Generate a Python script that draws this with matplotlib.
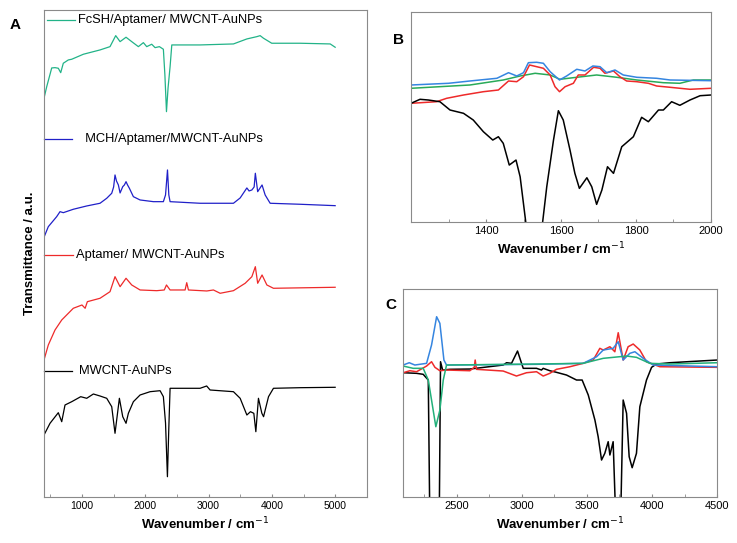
import numpy as np
import matplotlib
matplotlib.use("Agg")
import matplotlib.pyplot as plt

plt.rcParams['font.family'] = ['Liberation Sans', 'DejaVu Sans']

# ---- panel A (full spectra, stacked, a.u.) ----
fcsh_wn = [400, 443, 522, 574, 626, 664, 705, 784, 838, 1022, 1285, 1443, 1533, 1602, 1696, 1786, 1891,
           1970, 2023, 2102, 2155, 2223, 2286, 2310, 2335, 2360, 2392, 2419, 2866, 3393, 3605, 3763,
           3815, 3868, 3998, 4447, 4922, 5000]
fcsh_t = [444.7, 456.3, 475, 475.3, 474.7, 470.3, 479.7, 483, 483.7, 488.7, 493, 496.3, 507.3, 501.3, 505.7,
          501.3, 496.3, 500.3, 496.3, 498.7, 495.3, 496.3, 493.7, 468, 431.3, 455, 476.3, 498, 498, 499, 504,
          506.3, 507.3, 504.7, 499.7, 499.7, 499, 495.7]

mch_wn = [400, 468, 600, 653, 705, 863, 1075, 1285, 1391, 1470, 1500, 1522, 1545, 1575, 1602, 1644, 1670,
          1696, 1720, 1749, 1812, 1918, 2128, 2286, 2320, 2351, 2372, 2392, 2866, 3393, 3499, 3605, 3640,
          3684, 3720, 3739, 3776, 3845, 3894, 3973, 4447, 5000]
mch_t = [305.7, 316.3, 326.3, 331.3, 330.3, 333.7, 337, 339.7, 344.7, 349.7, 356, 368, 362, 358, 350, 356.3,
         358, 361.3, 358, 354.7, 346.3, 343, 341.3, 341.3, 348, 373, 348, 341.3, 339.7, 339.7, 345, 355, 352,
         353, 356, 369.7, 351.3, 358, 348, 339.7, 338.7, 337.3]

apt_wn = [400, 468, 574, 680, 863, 1000, 1050, 1085, 1285, 1443, 1522, 1602, 1696, 1786, 1918, 2181, 2300,
          2335, 2392, 2629, 2655, 2682, 2972, 3077, 3183, 3393, 3578, 3684, 3739, 3776, 3845, 3921, 4025,
          5000]
apt_t = [183, 198, 213, 223, 234.7, 238, 234.7, 241.3, 244.7, 251.3, 266.3, 256.3, 264.7, 258, 253, 252.3,
         253, 258, 253, 253, 260.3, 253, 252, 253, 249.7, 252.3, 259.7, 266.3, 276.3, 259.7, 268, 258, 254.7,
         255.7]

mw_wn = [400, 495, 626, 680, 732, 838, 980, 1075, 1180, 1285, 1391, 1470, 1522, 1591, 1644, 1696, 1733,
         1812, 1918, 2076, 2234, 2286, 2320, 2350, 2372, 2392, 2866, 2970, 3024, 3393, 3499, 3605, 3662,
         3715, 3747, 3788, 3842, 3869, 3947, 4025, 4447, 5000]
mw_t = [108, 119.7, 130.3, 121.3, 138, 141.3, 146.3, 144.7, 149, 147, 144.7, 136.3, 109.7, 144.7, 126.3,
        119.7, 129.7, 141.3, 148, 151.3, 152.3, 146.3, 120, 66.3, 115, 154.7, 154.7, 157, 153, 151.3, 144.7,
        128, 131.3, 129.7, 111.3, 144.7, 129.7, 126.3, 146.3, 154.7, 155.3, 155.7]

# ---- panel B (1200-2000 cm-1) ----
b_black_wn = [1200, 1224, 1246, 1277, 1304, 1340, 1366, 1393, 1418, 1433, 1446, 1462, 1480, 1491, 1506, 1528,
              1551, 1562, 1580, 1593, 1606, 1624, 1637, 1649, 1669, 1682, 1695, 1709, 1724, 1740, 1762, 1793,
              1815, 1833, 1860, 1873, 1895, 1917, 1944, 1971, 2000]
b_black_t = [439.7, 443.7, 443, 441.3, 433, 429.7, 423, 411.3, 403, 406.3, 399.7, 378, 383, 366.3, 321, 260,
             321, 356.3, 403, 432.3, 423, 393, 369.7, 354.7, 365.3, 356.3, 338.7, 353, 376.3, 369.7, 396.3,
             406.3, 425.7, 421.3, 433, 433, 441.3, 437.7, 443, 447.3, 448]
b_red_wn = [1200, 1268, 1295, 1340, 1393, 1433, 1460, 1482, 1500, 1516, 1535, 1553, 1571, 1584, 1596, 1611,
            1633, 1646, 1664, 1687, 1704, 1717, 1740, 1757, 1775, 1802, 1833, 1855, 1891, 1944, 2000]
b_red_t = [439.7, 441.3, 444.7, 448, 451.3, 453, 462, 461.3, 466.3, 478, 476.3, 474.7, 468, 456.3, 451.3,
           456.3, 459.7, 468, 468, 475.7, 474.7, 469.7, 472, 466.3, 462, 461.3, 459.7, 457, 455.7, 453.7, 454.7]
b_blue_wn = [1200, 1300, 1357, 1429, 1460, 1482, 1500, 1513, 1535, 1553, 1571, 1596, 1615, 1642, 1664, 1685,
             1704, 1722, 1744, 1766, 1802, 1855, 1891, 2000]
b_blue_t = [458, 459.7, 462, 464.7, 470.3, 467, 470.3, 480.3, 480.7, 479.7, 471.3, 463, 467, 473.7, 472, 477,
            476.3, 470.3, 473, 468, 465.7, 464.7, 463, 462.3]
b_green_wn = [1200, 1357, 1446, 1491, 1531, 1571, 1597, 1633, 1695, 1749, 1802, 1873, 1917, 1953, 2000]
b_green_t = [454.7, 458, 463, 467, 469.7, 468, 463.7, 465.3, 468, 465.7, 463, 460.3, 459.7, 463, 463]

# ---- panel C (2100-4500 cm-1) ----
c_black_wn = [2090, 2193, 2244, 2283, 2295, 2330, 2367, 2377, 2393, 2449, 2602, 2858, 2884, 2922, 2968, 2999,
              3012, 3114, 3152, 3165, 3216, 3267, 3344, 3421, 3464, 3511, 3562, 3587, 3613, 3638, 3664, 3677,
              3702, 3723, 3740, 3759, 3779, 3805, 3825, 3848, 3881, 3907, 3958, 3997, 4035, 4137, 4500]
c_black_t = [170.3, 169.7, 168.7, 163, 20, 0, 20, 181.3, 173, 173.7, 174, 178, 180.3, 179.7, 192, 179.7,
             174.7, 174.7, 173, 174.7, 172.3, 170.7, 168, 163, 163, 148, 123, 106.3, 83, 89.7, 101.3, 88,
             101.3, 20, 0, 20, 143, 129.7, 86.3, 75.3, 89.7, 136.3, 163, 175.7, 179, 180.3, 183]
c_red_wn = [2090, 2142, 2193, 2270, 2308, 2334, 2372, 2423, 2602, 2636, 2643, 2653, 2858, 2960, 3037, 3114,
            3165, 3216, 3267, 3370, 3472, 3549, 3600, 3626, 3677, 3715, 3741, 3779, 3817, 3856, 3907, 3958,
            4060, 4500]
c_red_t = [170.3, 172.3, 171.3, 177, 181.3, 175.7, 172.3, 173, 172.3, 175.7, 183, 173.7, 172, 167, 170.3,
           171.3, 167, 169.7, 173.7, 176.3, 179.7, 183, 194.7, 193, 196.3, 191.3, 210.3, 183, 196.3, 199, 193,
           181.3, 176.3, 175.7]
c_blue_wn = [2090, 2137, 2180, 2270, 2308, 2347, 2372, 2403, 2423, 3114, 3472, 3575, 3626, 3702, 3741, 3779,
             3830, 3869, 3933, 4009, 4500]
c_blue_t = [178, 180.3, 178, 179.7, 198, 226.3, 219.7, 183, 178, 178.7, 179.7, 186.3, 193, 194.7, 201.3, 183,
            189.7, 191.3, 184.7, 178, 176.3]
c_green_wn = [2090, 2167, 2244, 2283, 2308, 2341, 2372, 2398, 2423, 3114, 3472, 3626, 3805, 3881, 3983, 4137,
              4500]
c_green_t = [177, 174.7, 174.7, 163, 143, 116.3, 133, 163, 178, 179, 179.7, 184.7, 187, 185.7, 179.7, 179,
             180.3]

labels_a = ["FcSH/Aptamer/ MWCNT-AuNPs", "  MCH/Aptamer/MWCNT-AuNPs", "Aptamer/ MWCNT-AuNPs", "MWCNT-AuNPs"]

green_a = "#22b388"
blue_a = "#2020c8"
red_c = "#ee2a2a"
blue_c = "#3585e0"
green_b = "#28aa58"
green_c = "#22b07a"
spine_col = "#8a8a8a"

fig = plt.figure(figsize=(7.37, 5.43), dpi=100)
axA = fig.add_axes([0.0597, 0.0847, 0.438, 0.897])
axB = fig.add_axes([0.5577, 0.591, 0.407, 0.387])
axC = fig.add_axes([0.547, 0.0847, 0.426, 0.383])


def style(ax, fs):
    for s in ax.spines.values():
        s.set_color(spine_col)
        s.set_linewidth(0.8)
    ax.set_yticks([])
    ax.tick_params(axis='x', which='both', direction='in', color=spine_col, labelsize=fs, pad=3)
    ax.tick_params(axis='x', which='major', length=2.5)
    ax.tick_params(axis='x', which='minor', length=2)
    ax.set_xlabel("Wavenumber / cm$^{-1}$", fontsize=9.5, fontweight='bold', labelpad=3)


axA.plot(fcsh_wn, fcsh_t, color=green_a, lw=0.9)
axA.plot(mch_wn, mch_t, color=blue_a, lw=0.9)
axA.plot(apt_wn, apt_t, color=red_c, lw=0.9)
axA.plot(mw_wn, mw_t, color="black", lw=0.9)
axA.set_xlim(400, 5500)
axA.set_ylim(46, 533)
axA.set_xticks([1000, 2000, 3000, 4000, 5000])
axA.set_xticks(np.arange(500, 5501, 500), minor=True)
style(axA, 7.5)
axA.set_ylabel("Transmittance / a.u.", fontsize=9.5, fontweight='bold', labelpad=6)

leg = [(0.008, 0.096, 0.979, 0.104, green_a), (0.0, 0.086, 0.735, 0.104, blue_a),
       (0.0, 0.089, 0.497, 0.099, red_c), (0.0, 0.087, 0.259, 0.108, "black")]
for (x0, x1, y, tx, col), lab in zip(leg, labels_a):
    axA.plot([x0, x1], [y, y], color=col, lw=0.9, transform=axA.transAxes, clip_on=False)
    axA.text(tx, y, lab, fontsize=9.3, va='center', ha='left', transform=axA.transAxes)

axB.plot(b_green_wn, b_green_t, color=green_b, lw=1.1)
axB.plot(b_red_wn, b_red_t, color=red_c, lw=1.1)
axB.plot(b_blue_wn, b_blue_t, color=blue_c, lw=1.1)
axB.plot(b_black_wn, b_black_t, color="black", lw=1.1)
axB.set_xlim(1200, 2000)
axB.set_ylim(321, 531)
axB.set_xticks([1400, 1600, 1800, 2000])
axB.set_xticks(np.arange(1300, 2000, 100), minor=True)
style(axB, 8)

axC.plot(c_black_wn, c_black_t, color="black", lw=1.1)
axC.plot(c_red_wn, c_red_t, color=red_c, lw=1.1)
axC.plot(c_blue_wn, c_blue_t, color=blue_c, lw=1.1)
axC.plot(c_green_wn, c_green_t, color=green_c, lw=1.1)
axC.set_xlim(2090, 4500)
axC.set_ylim(46, 254)
axC.set_xticks([2500, 3000, 3500, 4000, 4500])
axC.set_xticks(np.arange(2250, 4500, 250), minor=True)
style(axC, 8)

fig.text(15 / 737, 1 - 25 / 543, "A", fontsize=11, fontweight='bold', ha='center', va='center')
fig.text(399 / 737, 1 - 40 / 543, "B", fontsize=11, fontweight='bold', ha='center', va='center')
fig.text(391 / 737, 1 - 305 / 543, "C", fontsize=11, fontweight='bold', ha='center', va='center')

fig.savefig("out.png", dpi=100)
